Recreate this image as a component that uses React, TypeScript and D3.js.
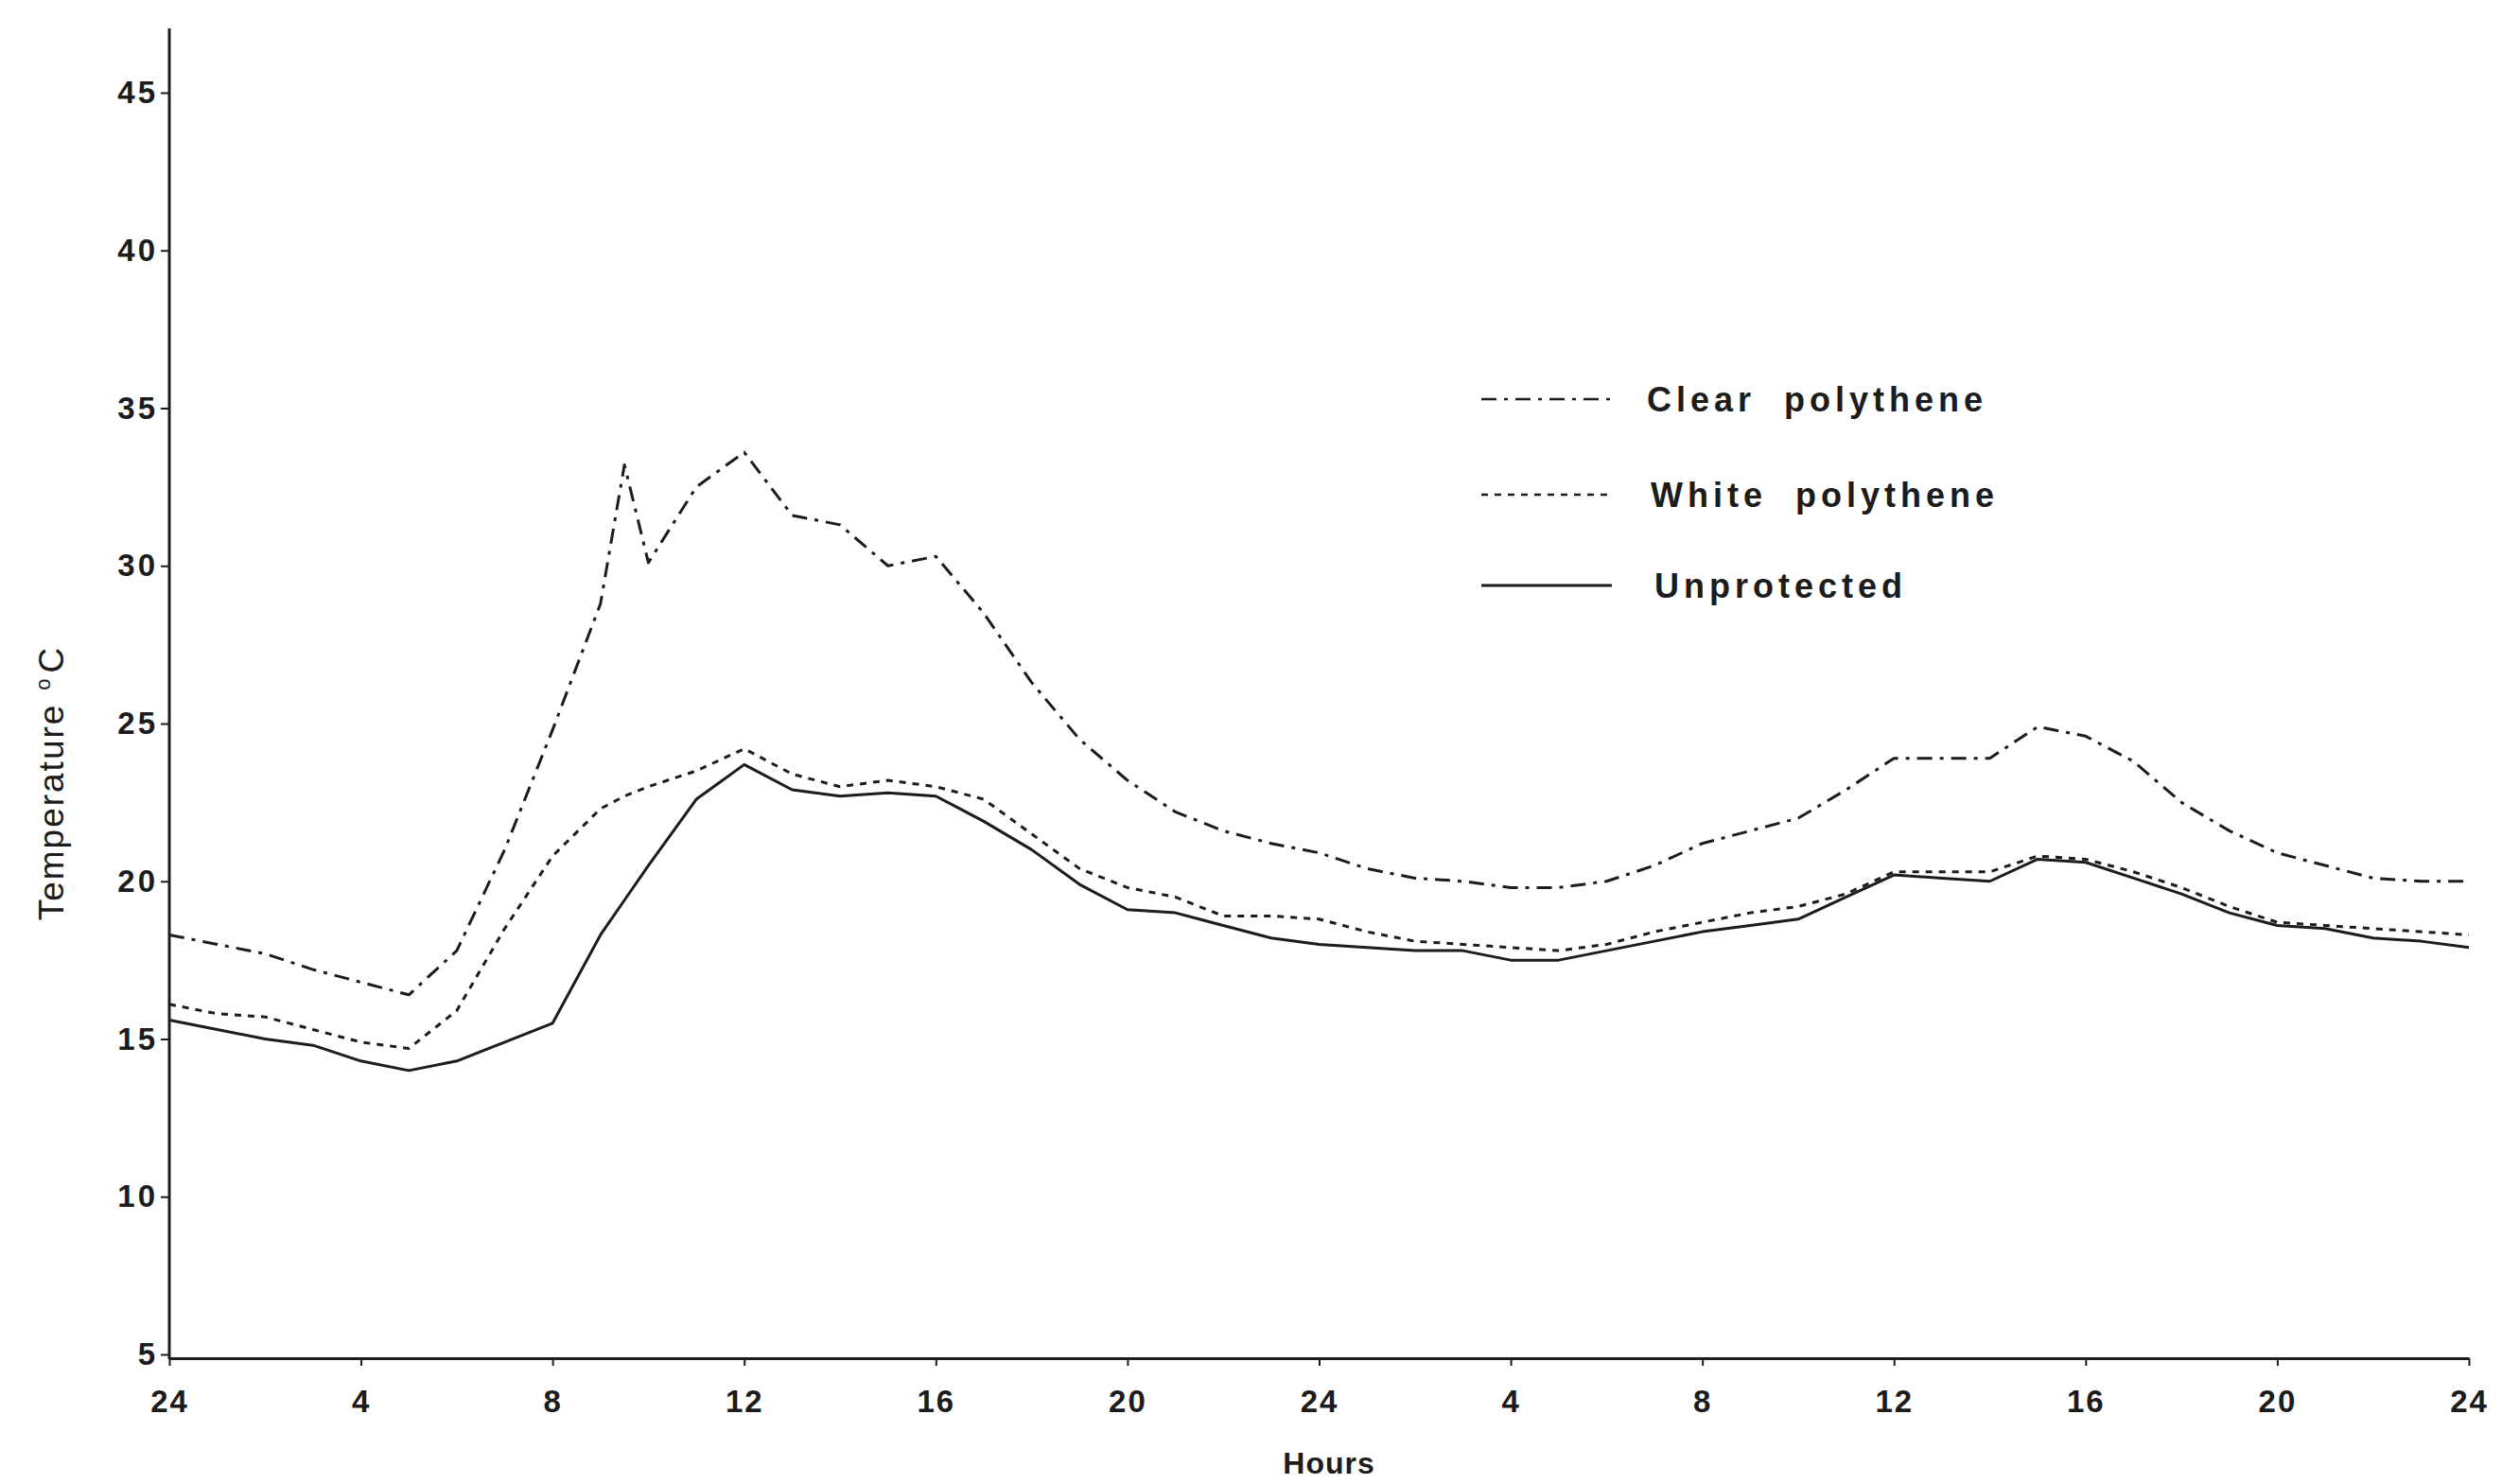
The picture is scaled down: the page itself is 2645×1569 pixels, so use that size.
import React, { useRef, useEffect } from "react";
import * as d3 from "d3";

const WIDTH = 2645;
const HEIGHT = 1569;

// hours since the first midnight (9.5 is the extra reading in the morning spike)
const hours = [
  0, 1, 2, 3, 4, 5, 6, 7, 8, 9, 9.5, 10, 11, 12, 13, 14, 15, 16, 17, 18, 19, 20,
  21, 22, 23, 24, 25, 26, 27, 28, 29, 30, 31, 32, 33, 34, 35, 36, 37, 38, 39,
  40, 41, 42, 43, 44, 45, 46, 47, 48,
];

const clearPolythene = [
  18.3, 18.0, 17.7, 17.2, 16.8, 16.4, 17.8, 21.0, 24.8, 28.8, 33.2, 30.1, 32.5,
  33.6, 31.6, 31.3, 30.0, 30.3, 28.5, 26.3, 24.5, 23.2, 22.2, 21.6, 21.2, 20.9,
  20.4, 20.1, 20.0, 19.8, 19.8, 20.0, 20.5, 21.2, 21.6, 22.0, 22.9, 23.9, 23.9,
  23.9, 24.9, 24.6, 23.8, 22.5, 21.6, 20.9, 20.5, 20.1, 20.0, 20.0,
];

const whitePolythene = [
  16.1, 15.8, 15.7, 15.3, 14.9, 14.7, 15.9, 18.5, 20.8, 22.3, 22.7, 23.0, 23.5,
  24.2, 23.4, 23.0, 23.2, 23.0, 22.6, 21.5, 20.4, 19.8, 19.5, 18.9, 18.9, 18.8,
  18.4, 18.1, 18.0, 17.9, 17.8, 18.0, 18.4, 18.7, 19.0, 19.2, 19.6, 20.3, 20.3,
  20.3, 20.8, 20.7, 20.3, 19.8, 19.2, 18.7, 18.6, 18.5, 18.4, 18.3,
];

const unprotected = [
  15.6, 15.3, 15.0, 14.8, 14.3, 14.0, 14.3, 14.9, 15.5, 18.3, 19.4, 20.5, 22.6,
  23.7, 22.9, 22.7, 22.8, 22.7, 21.9, 21.0, 19.9, 19.1, 19.0, 18.6, 18.2, 18.0,
  17.9, 17.8, 17.8, 17.5, 17.5, 17.8, 18.1, 18.4, 18.6, 18.8, 19.5, 20.2, 20.1,
  20.0, 20.7, 20.6, 20.1, 19.6, 19.0, 18.6, 18.5, 18.2, 18.1, 17.9,
];

const xTicks = [0, 4, 8, 12, 16, 20, 24, 28, 32, 36, 40, 44, 48];
const xTickLabels = ["24", "4", "8", "12", "16", "20", "24", "4", "8", "12", "16", "20", "24"];
const yTicks = [5, 10, 15, 20, 25, 30, 35, 40, 45];

const seriesNames = ["Clear  polythene", "White  polythene", "Unprotected"];
const seriesDash = ["16,8,4,8", "7,7", null];

const FONT = "'Liberation Sans', Arial, Helvetica, sans-serif";
const NARROW = "'Liberation Sans Narrow', 'Liberation Sans', Arial, sans-serif";
const INK = "#1c1c1c";

function App() {
  const svgRef = useRef(null);

  const x = d3.scaleLinear().domain([0, 48]).range([179, 2610]);
  const y = d3.scaleLinear().domain([5, 45]).range([1432, 98]);

  const line = d3
    .line()
    .x((d) => x(d[0]))
    .y((d) => y(d[1]));

  const series = [clearPolythene, whitePolythene, unprotected].map((vals) =>
    vals.map((v, i) => [hours[i], v])
  );

  useEffect(() => {
    const svg = d3.select(svgRef.current);

    // x axis
    const xAxis = d3
      .axisBottom(x)
      .tickValues(xTicks)
      .tickFormat((d, i) => xTickLabels[i])
      .tickSize(8)
      .tickSizeOuter(0)
      .tickPadding(26);
    const gx = svg.select(".x-axis").attr("transform", "translate(0,1436)").call(xAxis);
    gx.select(".domain").attr("stroke", INK).attr("stroke-width", 3);
    gx.selectAll(".tick line").attr("stroke", INK).attr("stroke-width", 2);
    gx.selectAll(".tick text")
      .attr("fill", INK)
      .style("font-family", FONT)
      .style("font-weight", "bold")
      .style("font-size", "33px")
      .style("letter-spacing", "2px");

    // y axis
    const yAxis = d3
      .axisLeft(y)
      .tickValues(yTicks)
      .tickSize(9)
      .tickSizeOuter(0)
      .tickPadding(3);
    const gy = svg.select(".y-axis").attr("transform", "translate(179,0)").call(yAxis);
    gy.select(".domain").remove();
    gy.selectAll(".tick line").attr("stroke", INK).attr("stroke-width", 2);
    gy.selectAll(".tick text")
      .attr("fill", INK)
      .style("font-family", FONT)
      .style("font-weight", "bold")
      .style("font-size", "33px")
      .style("letter-spacing", "3px");
  }, []);

  return (
    <svg
      ref={svgRef}
      width={WIDTH}
      height={HEIGHT}
      style={{ position: "absolute", left: 0, top: 0, background: "#fff" }}
    >
      <rect width={WIDTH} height={HEIGHT} fill="#fff" />
      <line x1={179} x2={179} y1={30} y2={1437} stroke={INK} strokeWidth={3} />
      <g className="x-axis" />
      <g className="y-axis" />

      {series.map((s, i) => (
        <path
          key={i}
          d={line(s)}
          fill="none"
          stroke={INK}
          strokeWidth={3}
          strokeDasharray={seriesDash[i] || undefined}
          strokeLinejoin="round"
        />
      ))}

      {/* legend */}
      {seriesNames.map((name, i) => {
        const ly = [422, 523, 619][i];
        return (
          <g key={name}>
            <line
              x1={1566}
              x2={1704}
              y1={ly}
              y2={ly}
              stroke={INK}
              strokeWidth={i === 2 ? 3 : 2.5}
              strokeDasharray={seriesDash[i] || undefined}
            />
            <text
              x={1741 + i * 4}
              y={ly + 13}
              fill={INK}
              style={{
                fontFamily: FONT,
                fontWeight: "bold",
                fontSize: 36,
                letterSpacing: "5px",
                whiteSpace: "pre",
              }}
            >
              {name}
            </text>
          </g>
        );
      })}

      {/* axis titles */}
      <text
        transform="translate(67,828) rotate(-90)"
        textAnchor="middle"
        fill={INK}
        style={{ fontFamily: NARROW, fontSize: 37, letterSpacing: "2px" }}
      >
        Temperature
        <tspan dx={14} dy={-14} style={{ fontSize: 22 }}>o</tspan>
        <tspan dx={4} dy={14}>C</tspan>
      </text>
      <text
        x={1405}
        y={1558}
        textAnchor="middle"
        fill={INK}
        style={{ fontFamily: NARROW, fontWeight: "bold", fontSize: 32, letterSpacing: "1px" }}
      >
        Hours
      </text>
    </svg>
  );
}

export default App;
